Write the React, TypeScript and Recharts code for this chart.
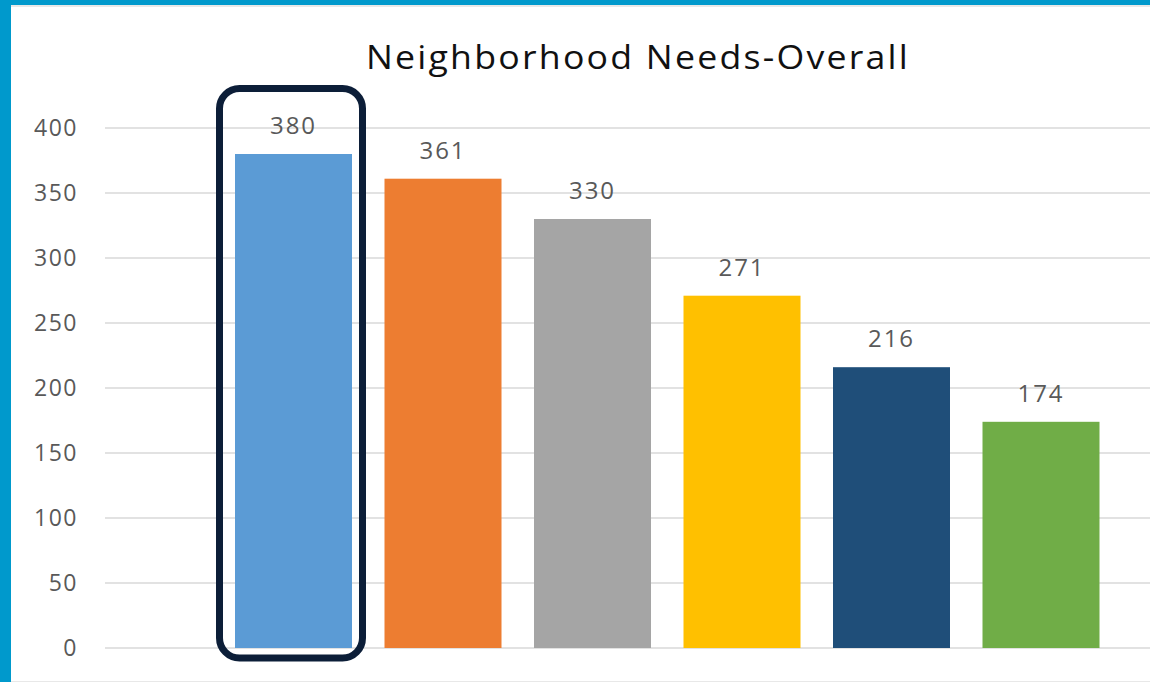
import React from 'react';
import { BarChart, Bar, XAxis, YAxis, CartesianGrid, Cell, LabelList } from 'recharts';

// Neighborhood needs, overall counts (category names are not shown on the chart)
const categories = ['Need 1', 'Need 2', 'Need 3', 'Need 4', 'Need 5', 'Need 6'];
const counts = [380, 361, 330, 271, 216, 174];
const barColors = ['#5b9bd5', '#ed7d31', '#a5a5a5', '#ffc000', '#1f4e79', '#70ad47'];
const yTicks = [0, 50, 100, 150, 200, 250, 300, 350, 400];
const highlightIndex = 0;

const FONT = '"Open Sans", "Liberation Sans", sans-serif';

const chartData = categories.map((name, i) => ({ name, value: counts[i] }));

// Bar shape that also draws the rounded call-out box around the highlighted bar
const HighlightBar = (props: any) => {
  const { x, y, width, height, fill, index, background } = props;
  const bottom = background ? background.y + background.height : y + height;
  return (
    <g>
      <rect x={x} y={y} width={width} height={height} fill={fill} />
      {index === highlightIndex && (
        <rect
          x={x - 15.5}
          y={y - 65.5}
          width={width + 26}
          height={bottom - y + 75.5}
          rx={20}
          ry={20}
          fill="none"
          stroke="#0c1e38"
          strokeWidth={7}
        />
      )}
    </g>
  );
};

export default function App() {
  return (
    <div
      style={{
        position: 'absolute',
        left: 0,
        top: 0,
        width: 1150,
        height: 682,
        background: '#ffffff',
        overflow: 'hidden',
        fontFamily: FONT,
      }}
    >
      {/* frame strips */}
      <div style={{ position: 'absolute', left: 0, top: 0, width: 1150, height: 5, background: '#0099cc' }} />
      <div style={{ position: 'absolute', left: 11, top: 5, width: 1139, height: 2, background: '#e8e8e8' }} />
      <div style={{ position: 'absolute', left: 0, top: 0, width: 11, height: 682, background: '#0099cc' }} />
      <div style={{ position: 'absolute', left: 11, top: 681, width: 1139, height: 1, background: '#e8e8e8' }} />

      <div
        style={{
          position: 'absolute',
          left: 0,
          top: 37,
          width: 1276,
          textAlign: 'center',
          fontSize: 32,
          letterSpacing: 2,
          color: '#111111',
          lineHeight: '40px',
          transform: 'scaleX(1.115)',
          transformOrigin: '638px 0',
        }}
      >
        Neighborhood Needs-Overall
      </div>

      <div style={{ position: 'absolute', left: 0, top: 0 }}>
        <BarChart
          width={1150}
          height={682}
          data={chartData}
          margin={{ top: 128, right: 0, bottom: 34, left: 0 }}
          barSize={117}
        >
          <CartesianGrid vertical={false} stroke="#e2e2e2" strokeWidth={2} />
          <XAxis dataKey="name" hide padding={{ left: 114, right: 34 }} />
          <YAxis
            width={105}
            domain={[0, 400]}
            ticks={yTicks}
            interval={0}
            axisLine={false}
            tickLine={false}
            tickMargin={21}
            tick={{ fill: '#595959', fontSize: 23, fontFamily: FONT, letterSpacing: 1.5 }}
          />
          <Bar dataKey="value" isAnimationActive={false} shape={<HighlightBar />}>
            {chartData.map((d, i) => (
              <Cell key={d.name} fill={barColors[i]} />
            ))}
            <LabelList
              dataKey="value"
              position="top"
              offset={20}
              fill="#595959"
              fontSize={24}
              fontFamily={FONT}
              letterSpacing={2}
            />
          </Bar>
        </BarChart>
      </div>
    </div>
  );
}
